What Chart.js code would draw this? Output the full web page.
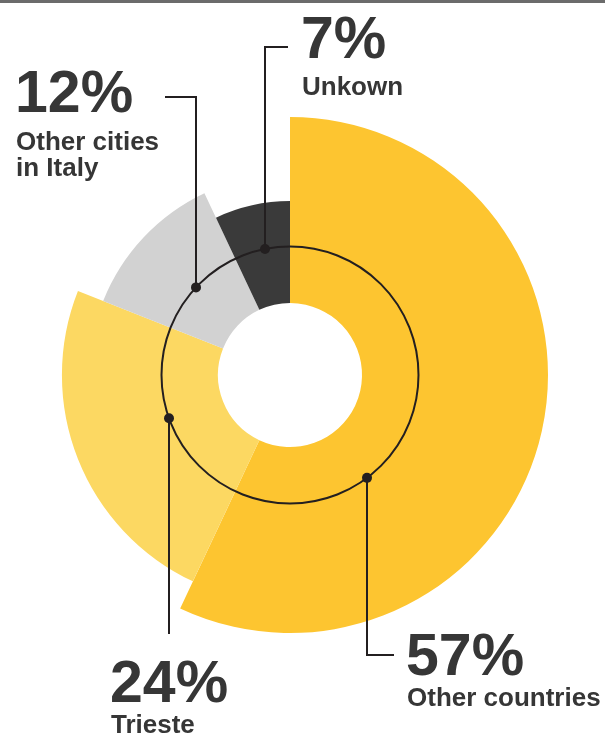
<!DOCTYPE html>
<html>
<head>
<meta charset="utf-8">
<script src="https://cdn.jsdelivr.net/npm/chart.js@4/dist/chart.umd.min.js"></script>
<style>
  html, body { margin: 0; padding: 0; background: #fff; }
  #wrap { width: 605px; height: 738px; }
</style>
</head>
<body>
<div id="wrap"><canvas id="originChart" width="605" height="738"></canvas></div>
<script>
// data
const categories = ['Other countries', 'Trieste', 'Other cities in Italy', 'Unkown'];
const shares = [57, 24, 12, 7];
const labelLines = [['Other countries'], ['Trieste'], ['Other cities', 'in Italy'], ['Unkown']];

// styling
const sliceColors = ['#FDC530', '#FCD862', '#D2D2D2', '#3A3A3A'];
const sliceReach = [1, 0.884, 0.779, 0.674]; // outer radius relative to the biggest slice
const ink = '#231F20';
const textColor = '#363636';
const ringRadius = 128.5;

// leader line for each slice: x of the vertical line, which side of the ring, elbow
const leaders = [
    { x: 367, side: 1, endY: 655, toX: 394, numX: 406, numY: 675, nameY: 706 },
    { x: 169, side: 1, endY: 634, toX: null, numX: 110, numY: 702, nameY: 733 },
    { x: 196, side: -1, endY: 97, toX: 165, numX: 15, numY: 112, nameY: 150 },
    { x: 265, side: -1, endY: 47, toX: 288, numX: 301, numY: 58, nameY: 95 }
];

// give every slice its own outer radius
const reachPlugin = {
    id: 'reach',
    afterDatasetUpdate(chart, args) {
        const meta = args.meta;
        const full = meta.controller.outerRadius;
        meta.data.forEach((arc, i) => {
            arc.outerRadius = full * sliceReach[i];
        });
    }
};

const decorPlugin = {
    id: 'decor',
    afterDraw(chart) {
        const ctx = chart.ctx;
        const arc0 = chart.getDatasetMeta(0).data[0];
        const cx = arc0.x, cy = arc0.y;
        ctx.save();

        // rule at the very top
        ctx.fillStyle = '#6B6B6B';
        ctx.fillRect(0, 0, chart.width, 3);

        // thin ring
        ctx.strokeStyle = ink;
        ctx.lineWidth = 2;
        ctx.beginPath();
        ctx.arc(cx, cy, ringRadius, 0, Math.PI * 2);
        ctx.stroke();

        leaders.forEach((l, i) => {
            const dx = l.x - cx;
            const dotY = cy + l.side * Math.sqrt(ringRadius * ringRadius - dx * dx);
            ctx.strokeStyle = ink;
            ctx.lineWidth = 2;
            ctx.beginPath();
            ctx.moveTo(l.x, dotY);
            ctx.lineTo(l.x, l.endY);
            if (l.toX !== null) ctx.lineTo(l.toX, l.endY);
            ctx.stroke();

            ctx.fillStyle = ink;
            ctx.beginPath();
            ctx.arc(l.x, dotY, 5, 0, Math.PI * 2);
            ctx.fill();

            ctx.fillStyle = textColor;
            ctx.textAlign = 'left';
            ctx.textBaseline = 'alphabetic';
            ctx.font = 'bold 59px "Liberation Sans", Arial, sans-serif';
            ctx.fillText(shares[i] + '%', l.numX, l.numY);
            ctx.font = 'bold 26px "Liberation Sans", Arial, sans-serif';
            labelLines[i].forEach((line, k) => {
                ctx.fillText(line, l.numX + 1, l.nameY + k * 26);
            });
        });
        ctx.restore();
    }
};

new Chart(document.getElementById('originChart'), {
    type: 'doughnut',
    data: {
        labels: categories,
        datasets: [{
            data: shares,
            backgroundColor: sliceColors,
            borderWidth: 0,
            hoverOffset: 0
        }]
    },
    options: {
        responsive: false,
        animation: false,
        events: [],
        cutout: 72,
        layout: { padding: { left: 32, right: 57, top: 117, bottom: 105 } },
        plugins: {
            legend: { display: false },
            tooltip: { enabled: false }
        }
    },
    plugins: [reachPlugin, decorPlugin]
});
</script>
</body>
</html>
